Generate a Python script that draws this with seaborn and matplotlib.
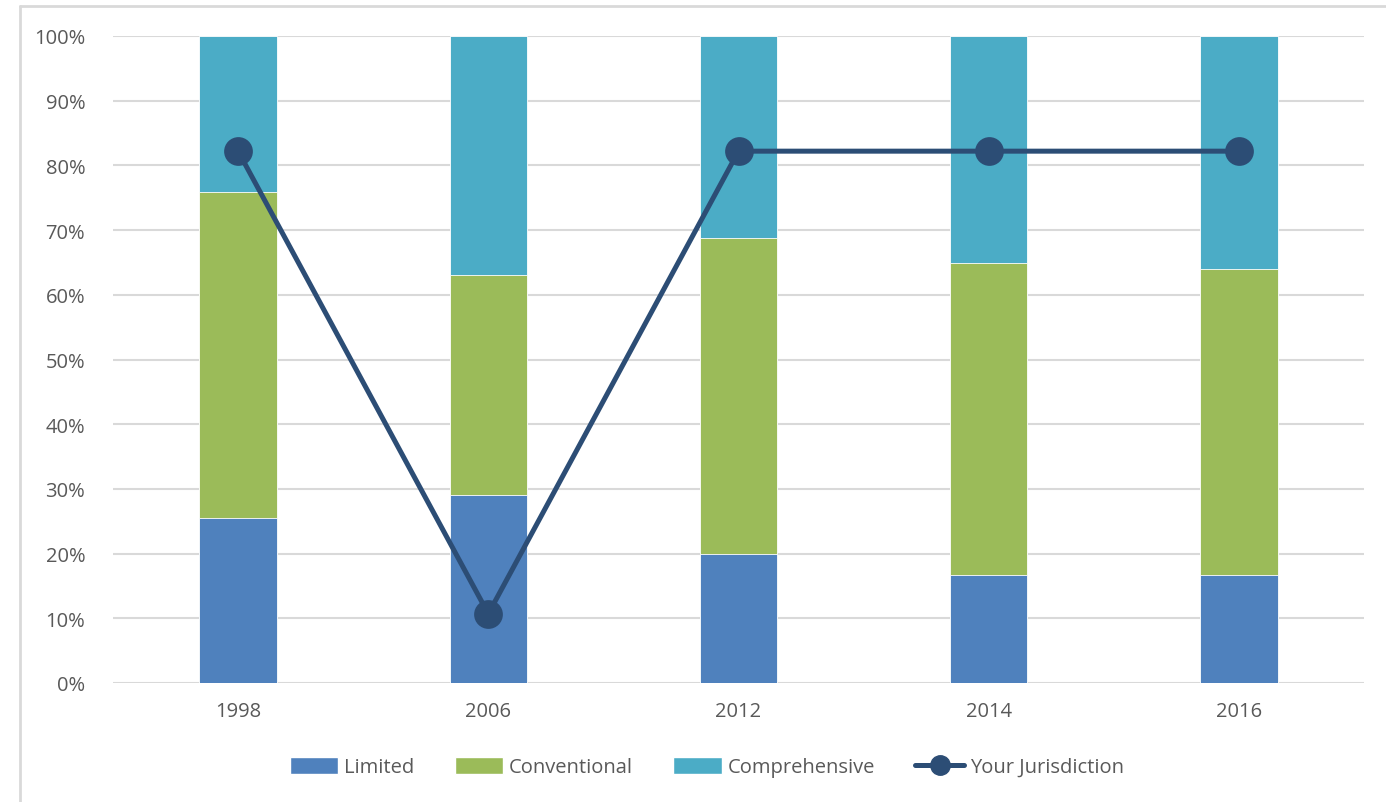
import matplotlib
matplotlib.use("Agg")
import matplotlib.pyplot as plt
from matplotlib.patches import Patch
from matplotlib.lines import Line2D
import seaborn as sns
import pandas as pd

years = ["1998", "2006", "2012", "2014", "2016"]
limited = [25.5, 29.1, 19.9, 16.7, 16.7]
conventional = [50.4, 34.0, 48.9, 48.2, 47.3]
comprehensive = [24.1, 36.9, 31.2, 35.1, 36.0]
jurisdiction = [82.2, 10.7, 82.2, 82.2, 82.2]

c_lim = "#4F81BD"
c_conv = "#9BBB59"
c_comp = "#4BACC6"
c_line = "#2C4D75"
grid_c = "#D9D9D9"
text_c = "#595959"

sns.set_theme(style="white")
plt.rcParams["font.family"] = ["Open Sans", "DejaVu Sans"]

df = pd.DataFrame({
    "year": years,
    "lim": limited,
    "conv": conventional,
    "comp": comprehensive,
    "jur": jurisdiction,
})
df["top_conv"] = df["lim"] + df["conv"]
df["top_comp"] = df["top_conv"] + df["comp"]

fig = plt.figure(figsize=(13.86, 8.03), dpi=100)
ax = fig.add_axes([113 / 1386, 1 - 684 / 803, (1364 - 113) / 1386, (684 - 37) / 803])

# stacked bars drawn as overlapping cumulative totals
sns.barplot(data=df, x="year", y="top_comp", color=c_comp, saturation=1, width=0.31,
            edgecolor="white", linewidth=0.6, ax=ax, zorder=2)
sns.barplot(data=df, x="year", y="top_conv", color=c_conv, saturation=1, width=0.31,
            edgecolor="white", linewidth=0.6, ax=ax, zorder=2)
sns.barplot(data=df, x="year", y="lim", color=c_lim, saturation=1, width=0.31,
            edgecolor="white", linewidth=0.6, ax=ax, zorder=2)

sns.pointplot(data=df, x="year", y="jur", color=c_line, markers="o",
              markersize=18, linewidth=3.6, ax=ax, zorder=4)
for coll in ax.collections:
    coll.set_zorder(5)

ax.set_xlim(-0.5, 4.5)
ax.set_ylim(0, 100)
ax.set_yticks(range(0, 101, 10))
ax.set_yticklabels([f"{v}%" for v in range(0, 101, 10)])
ax.yaxis.grid(True, color=grid_c, linewidth=1.5, zorder=0)
ax.set_axisbelow(True)
for s in ax.spines.values():
    s.set_visible(False)
ax.set_xlabel("")
ax.set_ylabel("")
ax.tick_params(axis="both", length=0, labelsize=14.5, colors=text_c)
ax.tick_params(axis="y", pad=20)
ax.tick_params(axis="x", pad=13)

handles = [
    Patch(facecolor=c_lim, label="Limited"),
    Patch(facecolor=c_conv, label="Conventional"),
    Patch(facecolor=c_comp, label="Comprehensive"),
    Line2D([0], [0], color=c_line, lw=3.6, marker="o", markersize=14, label="Your Jurisdiction"),
]
leg = fig.legend(handles=handles, loc="center", bbox_to_anchor=(0.51, 1 - 768 / 803), ncol=4,
                 frameon=False, fontsize=14.5, handlelength=2.4, handleheight=0.9,
                 columnspacing=2.0, handletextpad=0.3)
for t in leg.get_texts():
    t.set_color(text_c)

# chart outline on the left and top edges
fig.add_artist(Line2D([20 / 1386, 20 / 1386], [0, 1 - 7 / 803], color=grid_c, lw=2,
                      transform=fig.transFigure))
fig.add_artist(Line2D([20 / 1386, 1], [1 - 7 / 803, 1 - 7 / 803], color=grid_c, lw=2,
                      transform=fig.transFigure))

fig.savefig("out.png", dpi=100, facecolor="white")
